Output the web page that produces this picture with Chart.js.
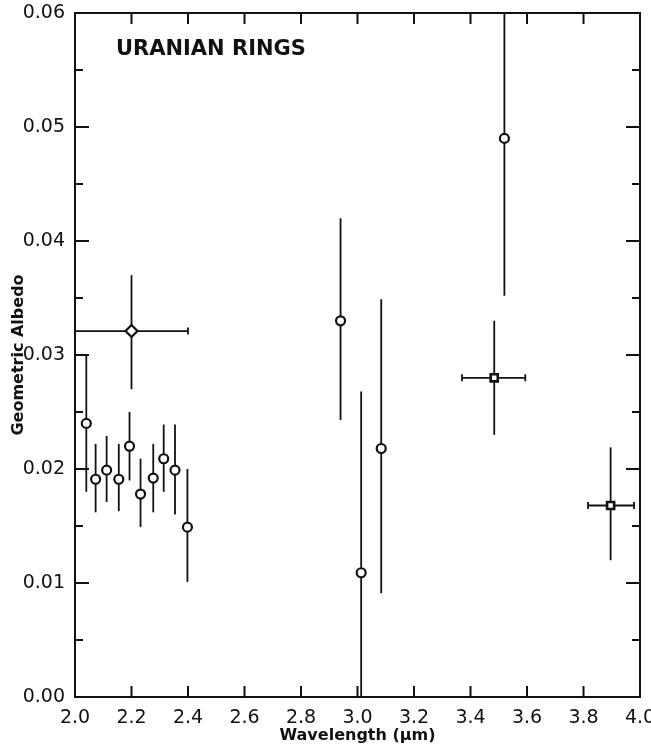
<!DOCTYPE html>
<html>
<head>
<meta charset="utf-8">
<script src="https://cdn.jsdelivr.net/npm/chart.js@4"></script>
<style>
  html, body { margin: 0; padding: 0; background: #fff; }
</style>
</head>
<body>
<canvas id="myChart" width="651" height="749"></canvas>
<script>
// circles (2.0-2.4 um run, plus the 3 um and 3.5 um points)
let circleX  = [2.04, 2.073, 2.112, 2.155, 2.193, 2.232, 2.277, 2.314, 2.354, 2.398, 2.94, 3.013, 3.084, 3.52];
let circleY  = [0.0240, 0.0191, 0.0199, 0.0191, 0.0220, 0.0178, 0.0192, 0.0209, 0.0199, 0.0149, 0.0330, 0.0109, 0.0218, 0.0490];
let circleLo = [0.0180, 0.0162, 0.0171, 0.0163, 0.0190, 0.0149, 0.0162, 0.0180, 0.0160, 0.0101, 0.0243, 0.0000, 0.0091, 0.0352];
let circleHi = [0.0300, 0.0222, 0.0229, 0.0222, 0.0250, 0.0209, 0.0222, 0.0239, 0.0239, 0.0200, 0.0420, 0.0268, 0.0349, 0.0600];

// diamond (broad K band)
let diamondX = [2.2];
let diamondY = [0.0321];
let diamondLo = [0.027];
let diamondHi = [0.037];
let diamondXLo = [2.0];
let diamondXHi = [2.4];

// squares
let squareX = [3.484, 3.896];
let squareY = [0.0280, 0.0168];
let squareLo = [0.023, 0.012];
let squareHi = [0.033, 0.0219];
let squareXLo = [3.37, 3.816];
let squareXHi = [3.594, 3.979];

let xTicks = [2.0, 2.2, 2.4, 2.6, 2.8, 3.0, 3.2, 3.4, 3.6, 3.8, 4.0];
let yTicks = [0.00, 0.01, 0.02, 0.03, 0.04, 0.05, 0.06];

function points(xs, ys, lo, hi, xlo, xhi) {
  return xs.map((v, i) => ({
    x: v, y: ys[i], yLo: lo[i], yHi: hi[i],
    xLo: xlo ? xlo[i] : null, xHi: xhi ? xhi[i] : null
  }));
}

// error bars go under the markers
const errorBars = {
  id: 'errorBars',
  beforeDatasetsDraw(chart) {
    const {ctx, chartArea: a, scales: {x, y}} = chart;
    ctx.save();
    ctx.beginPath();
    ctx.rect(a.left, a.top, a.right - a.left, a.bottom - a.top);
    ctx.clip();
    ctx.strokeStyle = '#111';
    ctx.lineWidth = 1.8;
    chart.data.datasets.forEach(ds => {
      ds.data.forEach(p => {
        const px = x.getPixelForValue(p.x);
        const py = y.getPixelForValue(p.y);
        ctx.beginPath();
        ctx.moveTo(px, y.getPixelForValue(p.yLo));
        ctx.lineTo(px, y.getPixelForValue(p.yHi));
        ctx.stroke();
        if (p.xLo != null) {
          const l = x.getPixelForValue(p.xLo), r = x.getPixelForValue(p.xHi);
          ctx.beginPath();
          ctx.moveTo(l, py); ctx.lineTo(r, py);
          ctx.moveTo(l, py - 3.5); ctx.lineTo(l, py + 3.5);
          ctx.moveTo(r, py - 3.5); ctx.lineTo(r, py + 3.5);
          ctx.stroke();
        }
      });
    });
    ctx.restore();
  }
};

// box frame with inward ticks on all four sides, plus the label
const frame = {
  id: 'frame',
  afterDraw(chart) {
    const {ctx, chartArea: a, scales: {x, y}} = chart;
    ctx.save();
    ctx.strokeStyle = '#111';
    ctx.lineWidth = 2;
    ctx.strokeRect(a.left, a.top, a.right - a.left, a.bottom - a.top);
    ctx.beginPath();
    xTicks.forEach(t => {
      const px = x.getPixelForValue(t);
      ctx.moveTo(px, a.bottom); ctx.lineTo(px, a.bottom - 11);
      ctx.moveTo(px, a.top); ctx.lineTo(px, a.top + 11);
    });
    for (let k = 0; k <= 12; k++) {
      const py = y.getPixelForValue(k * 0.005);
      const len = k % 2 === 0 ? 14 : 8;
      ctx.moveTo(a.left, py); ctx.lineTo(a.left + len, py);
      ctx.moveTo(a.right, py); ctx.lineTo(a.right - len, py);
    }
    ctx.stroke();

    ctx.fillStyle = '#111';
    ctx.font = 'bold 21px "DejaVu Sans"';
    ctx.textBaseline = 'middle';
    ctx.fillText('URANIAN RINGS', 116, 50);
    ctx.restore();
  }
};

let ctx = document.getElementById('myChart').getContext('2d');

let chart = new Chart(ctx, {
  type: 'scatter',
  data: {
    datasets: [
      {
        label: 'circles',
        data: points(circleX, circleY, circleLo, circleHi),
        pointStyle: 'circle', pointRadius: 4.5,
        backgroundColor: '#fff', borderColor: '#111', borderWidth: 2.2
      },
      {
        label: 'diamond',
        data: points(diamondX, diamondY, diamondLo, diamondHi, diamondXLo, diamondXHi),
        pointStyle: 'rectRot', pointRadius: 6,
        backgroundColor: '#fff', borderColor: '#111', borderWidth: 2.2
      },
      {
        label: 'squares',
        data: points(squareX, squareY, squareLo, squareHi, squareXLo, squareXHi),
        pointStyle: 'rect', pointRadius: 5,
        backgroundColor: '#fff', borderColor: '#111', borderWidth: 2.6
      }
    ]
  },
  options: {
    responsive: false,
    animation: false,
    layout: { padding: { top: 13, right: 11, left: 0, bottom: 0 } },
    plugins: { legend: { display: false }, tooltip: { enabled: false } },
    scales: {
      x: {
        type: 'linear', min: 2.0, max: 4.0,
        grid: { display: false }, border: { display: false },
        afterBuildTicks: s => { s.ticks = xTicks.map(v => ({value: v})); },
        afterFit: s => { s.height = 52; s.paddingLeft = 0; s.paddingRight = 0; },
        ticks: {
          color: '#111', padding: 2, maxRotation: 0, autoSkip: false,
          font: { family: 'DejaVu Sans', size: 19 },
          callback: v => v.toFixed(1)
        },
        title: {
          display: true, text: 'Wavelength (\u03bcm)', color: '#111',
          font: { family: 'DejaVu Sans', size: 16, weight: 'bold' },
          padding: { top: 0, bottom: 4 }
        }
      },
      y: {
        type: 'linear', min: 0, max: 0.06,
        grid: { display: false }, border: { display: false },
        afterBuildTicks: s => { s.ticks = yTicks.map(v => ({value: v})); },
        afterFit: s => { s.width = 75; s.paddingTop = 0; s.paddingBottom = 0; },
        ticks: {
          color: '#111', padding: 2, autoSkip: false,
          font: { family: 'DejaVu Sans', size: 19 },
          callback: v => v.toFixed(2)
        },
        title: {
          display: true, text: 'Geometric Albedo', color: '#111',
          font: { family: 'DejaVu Sans', size: 16, weight: 'bold' },
          padding: { top: 9, bottom: 0 }
        }
      }
    }
  },
  plugins: [errorBars, frame]
});
</script>
</body>
</html>
